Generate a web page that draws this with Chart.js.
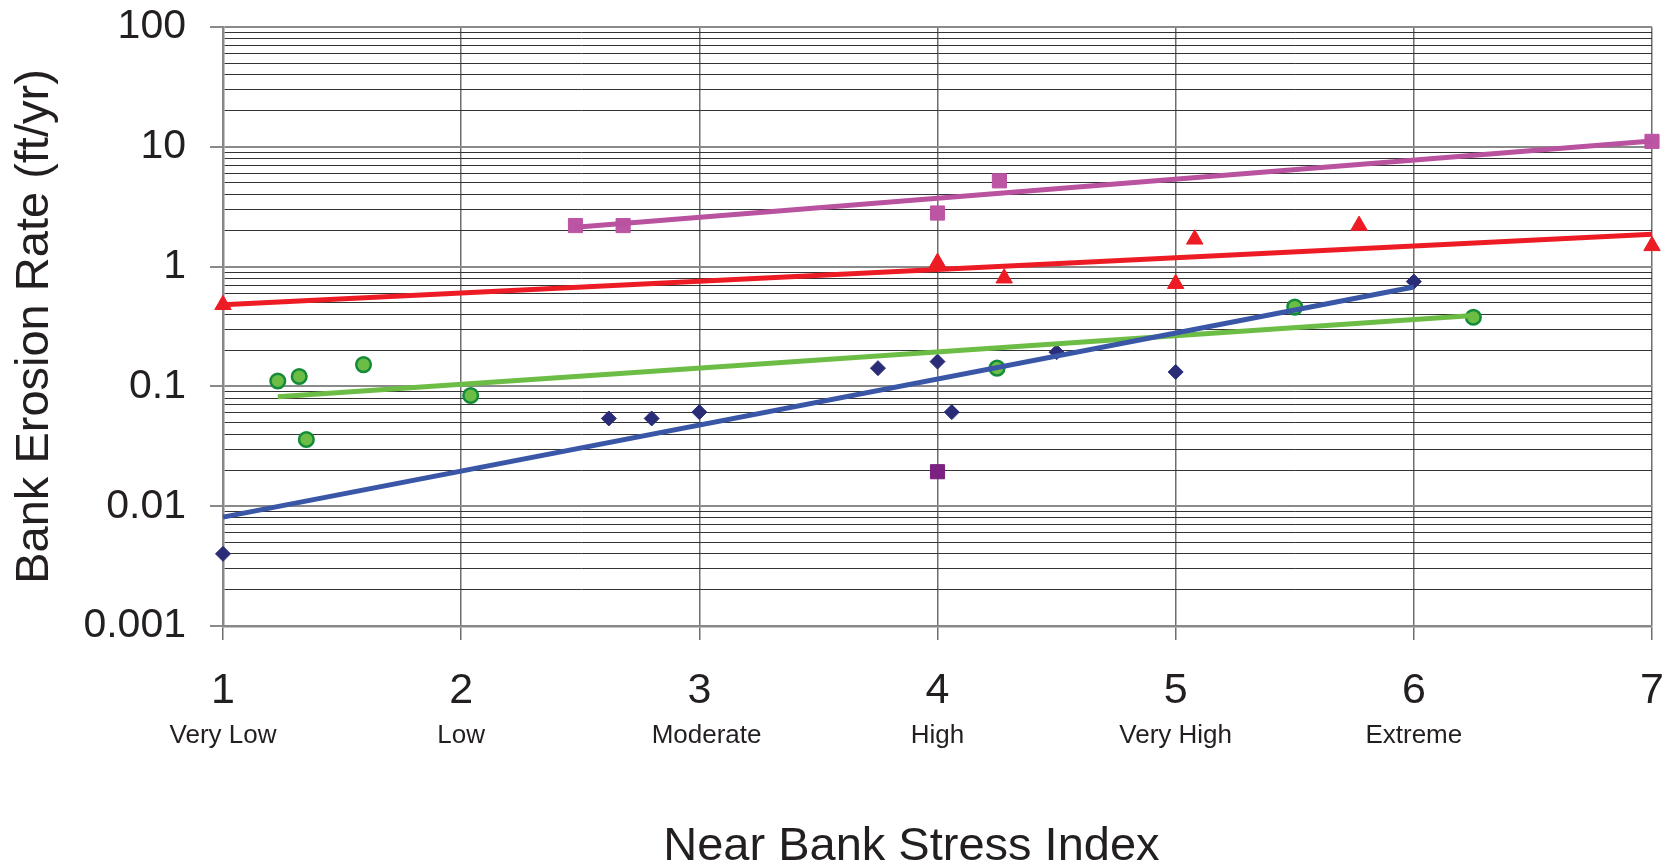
<!DOCTYPE html>
<html>
<head>
<meta charset="utf-8">
<script src="https://cdn.jsdelivr.net/npm/chart.js@4"></script>
<style>
body { margin: 0; background: #fff; }
#wrap { width: 1669px; height: 866px; }
</style>
</head>
<body>
<div id="wrap"><canvas id="chart" width="1669" height="866"></canvas></div>
<script>
// x axis: stress index and its category names
var xTicks = [1, 2, 3, 4, 5, 6, 7];
var xCategories = ['Very Low', 'Low', '  Moderate', 'High', 'Very High', 'Extreme', ''];

// y axis: log decades
var decades = [0.001, 0.01, 0.1, 1, 10, 100];
var decadeLabels = ['0.001', '0.01', '0.1', '1', '10', '100'];
var minorSteps = [2, 3, 4, 5, 6, 7, 8, 9];

// navy diamonds
var diamondX = [1, 2.62, 2.80, 3.00, 3.75, 4.00, 4.06, 4.50, 5.00, 6.00];
var diamondY = [0.004, 0.054, 0.054, 0.061, 0.142, 0.161, 0.061, 0.193, 0.132, 0.75];

// green circles
var circleX = [1.23, 1.32, 1.35, 1.59, 2.04, 4.25, 5.50, 6.25];
var circleY = [0.111, 0.121, 0.036, 0.152, 0.084, 0.142, 0.459, 0.378];

// red triangles
var triangleX = [1, 4.00, 4.28, 5.00, 5.08, 5.77, 7.00];
var triangleY = [0.48, 1.08, 0.80, 0.72, 1.69, 2.2, 1.49];

// magenta squares
var squareX = [2.48, 2.68, 4.00, 4.26, 7.00];
var squareY = [2.2, 2.2, 2.8, 5.2, 11.1];

// single dark purple square
var purpleX = [4.00];
var purpleY = [0.0194];

// trend lines (end points)
var blueTrendX = [1, 6];
var blueTrendY = [0.0081, 0.675];
var greenTrendX = [1.23, 6.25];
var greenTrendY = [0.082, 0.39];
var redTrendX = [1, 7];
var redTrendY = [0.48, 1.86];
var magentaTrendX = [2.48, 7];
var magentaTrendY = [2.13, 11.2];

var yTicks = [];
decades.forEach(function (d, i) {
    yTicks.push(d);
    if (i < decades.length - 1) {
        minorSteps.forEach(function (m) { yTicks.push(d * m); });
    }
});

function isDecade(v) {
    var l = Math.log10(v);
    return Math.abs(l - Math.round(l)) < 1e-6;
}

function decadeLabel(v) {
    for (var i = 0; i < decades.length; i++) {
        if (Math.abs(Math.log10(v) - Math.log10(decades[i])) < 1e-6) return decadeLabels[i];
    }
    return '';
}

function pts(xs, ys) {
    return xs.map(function (x, i) { return {x: x, y: ys[i]}; });
}

function trend(xs, ys, color) {
    return {
        data: pts(xs, ys), showLine: true, pointRadius: 0, borderColor: color,
        borderWidth: 5, borderCapStyle: 'butt', fill: false, order: 0, clip: false
    };
}

function marks(xs, ys, style, radius, fill, stroke, bw) {
    return {
        data: pts(xs, ys), showLine: false, pointStyle: style, pointRadius: radius,
        backgroundColor: fill, borderColor: stroke, borderWidth: bw, order: 1, clip: false
    };
}

// drop the extra room chart.js keeps for the end labels
function noSidePad(s) {
    s.paddingTop = 0; s.paddingBottom = 0; s.paddingLeft = 0; s.paddingRight = 0;
}

Chart.defaults.font.family = '"Liberation Sans", Arial, sans-serif';
Chart.defaults.color = '#231f20';

var ctx = document.getElementById('chart').getContext('2d');
var chart = new Chart(ctx, {
    type: 'scatter',
    data: {
        datasets: [
            trend(magentaTrendX, magentaTrendY, '#b9529f'),
            trend(redTrendX, redTrendY, '#ed1c24'),
            trend(blueTrendX, blueTrendY, '#3a56a7'),
            trend(greenTrendX, greenTrendY, '#6cbd45'),
            marks(squareX, squareY, 'rect', 10, '#bb55a4', '#bb55a4', 1),
            marks(purpleX, purpleY, 'rect', 10, '#7a2181', '#7a2181', 1),
            marks(triangleX, triangleY, 'triangle', 9.5, '#ed1c24', '#ed1c24', 1),
            marks(diamondX, diamondY, 'rectRot', 7.5, '#2b2c78', '#2b2c78', 1),
            marks(circleX, circleY, 'circle', 7.3, '#6cbd45', '#138b3a', 2.5)
        ]
    },
    options: {
        responsive: false,
        animation: false,
        layout: { padding: {top: 27, right: 17, bottom: 0, left: 0} },
        plugins: { legend: {display: false}, tooltip: {enabled: false} },
        scales: {
            x: {
                type: 'linear', position: 'bottom', min: 1, max: 7,
                afterBuildTicks: function (s) { s.ticks = xTicks.map(function (v) { return {value: v}; }); },
                afterFit: function (s) { s.height = 90; noSidePad(s); },
                ticks: {
                    font: {size: 43, lineHeight: 1.2}, padding: 25, maxRotation: 0, autoSkip: false,
                    callback: function (v) { return String(v); }
                },
                grid: { color: '#6e6e6e', lineWidth: 1.5, tickLength: 14, tickColor: '#6e6e6e' },
                border: { color: '#888', width: 2.5 }
            },
            x2: {
                type: 'linear', position: 'bottom', min: 1, max: 7,
                afterBuildTicks: function (s) { s.ticks = xTicks.map(function (v) { return {value: v}; }); },
                afterFit: function (s) { s.height = 150; noSidePad(s); },
                ticks: {
                    font: {size: 26, lineHeight: 1.2}, padding: 4, maxRotation: 0, autoSkip: false,
                    callback: function (v, i) { return xCategories[i]; }
                },
                grid: { display: false, drawTicks: false },
                border: { display: false },
                title: {
                    display: true, text: 'Near Bank Stress Index    ',
                    font: {size: 47, lineHeight: 0.8}, padding: {top: 0, bottom: 0}
                }
            },
            y: {
                type: 'logarithmic', min: 0.001, max: 100,
                afterBuildTicks: function (s) { s.ticks = yTicks.map(function (v) { return {value: v}; }); },
                afterFit: function (s) { s.width = 223; noSidePad(s); },
                ticks: {
                    font: {size: 41, lineHeight: 1.2}, padding: 24, autoSkip: false,
                    callback: function (v) { return decadeLabel(v); }
                },
                grid: {
                    color: function (c) { return c.tick && isDecade(c.tick.value) ? '#8a8a8a' : '#333'; },
                    lineWidth: function (c) { return c.tick && isDecade(c.tick.value) ? 2 : 1; },
                    tickLength: 13,
                    tickColor: function (c) { return c.tick && isDecade(c.tick.value) ? '#8a8a8a' : 'rgba(0,0,0,0)'; },
                    tickWidth: 2
                },
                border: { color: '#888', width: 2.5 },
                title: {
                    display: true, text: 'Bank Erosion Rate (ft/yr)',
                    font: {size: 47, lineHeight: 1.2}, padding: {top: 7, bottom: 0}
                }
            }
        }
    }
});
</script>
</body>
</html>
